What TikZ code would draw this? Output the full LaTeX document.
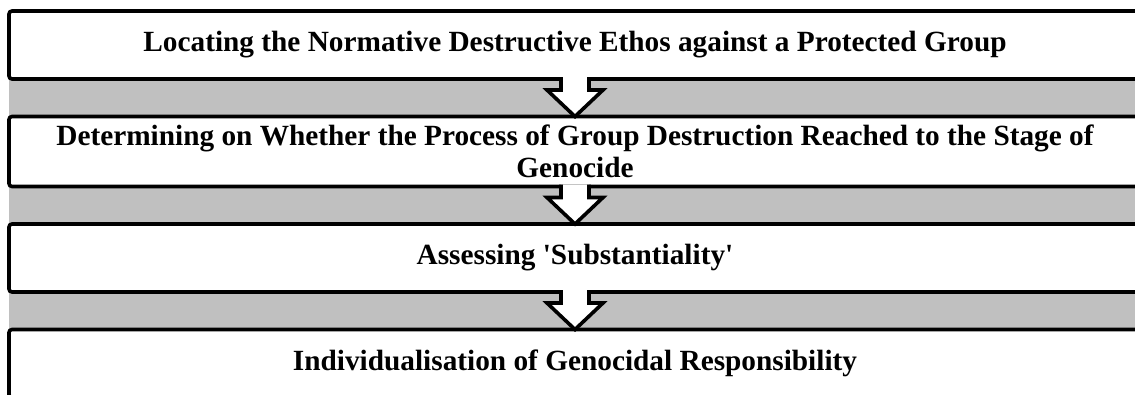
\documentclass[tikz,border=0pt]{standalone}
\usepackage{xcolor}
\usepackage{fontspec}
\setmainfont{Liberation Serif}
\usepackage{tikz}
\usetikzlibrary{positioning,calc,backgrounds}
\definecolor{bandgray}{RGB}{192,192,192}

\begin{document}
\begin{tikzpicture}[
x=1pt,y=1pt,
node distance=37.5pt,
stagebox/.style={draw,fill=white,line width=3.6pt,rounded corners=3pt,outer sep=0pt,align=center,minimum width=1132pt,minimum height=68pt,font=\fontsize{29.3}{32}\selectfont\bfseries},
flow/.style={draw,fill=white,line width=3.6pt,line join=miter}
]
\useasboundingbox (0,0) rectangle (1135,-394);
\clip (0,0) rectangle (1135,-394);
\node[stagebox] (locate) at (575,-45) {Locating the Normative Destructive Ethos against a Protected Group};
\node[stagebox,below=of locate,minimum height=70pt] (reach) {Determining on Whether the Process of Group Destruction Reached to the Stage of\\Genocide};
\node[stagebox,below=of reach] (subst) {Assessing \textquotesingle Substantiality\textquotesingle};
\node[stagebox,below=of subst] (indiv) {Individualisation of Genocidal Responsibility};
\begin{pgfonlayer}{background}
\fill[bandgray] (locate.south west) rectangle (indiv.north east);
\end{pgfonlayer}
\draw[flow] ($(locate.south)+(-14,1.8)$) -- ++(0,-12.8) -- ++(-14,0) -- (reach.north) -- ($(locate.south)+(28,-11)$) -- ++(-14,0) -- ++(0,12.8);
\draw[flow] ($(reach.south)+(-14,1.8)$) -- ++(0,-12.8) -- ++(-14,0) -- (subst.north) -- ($(reach.south)+(28,-11)$) -- ++(-14,0) -- ++(0,12.8);
\draw[flow] ($(subst.south)+(-14,1.8)$) -- ++(0,-12.8) -- ++(-14,0) -- (indiv.north) -- ($(subst.south)+(28,-11)$) -- ++(-14,0) -- ++(0,12.8);
\end{tikzpicture}
\end{document}
